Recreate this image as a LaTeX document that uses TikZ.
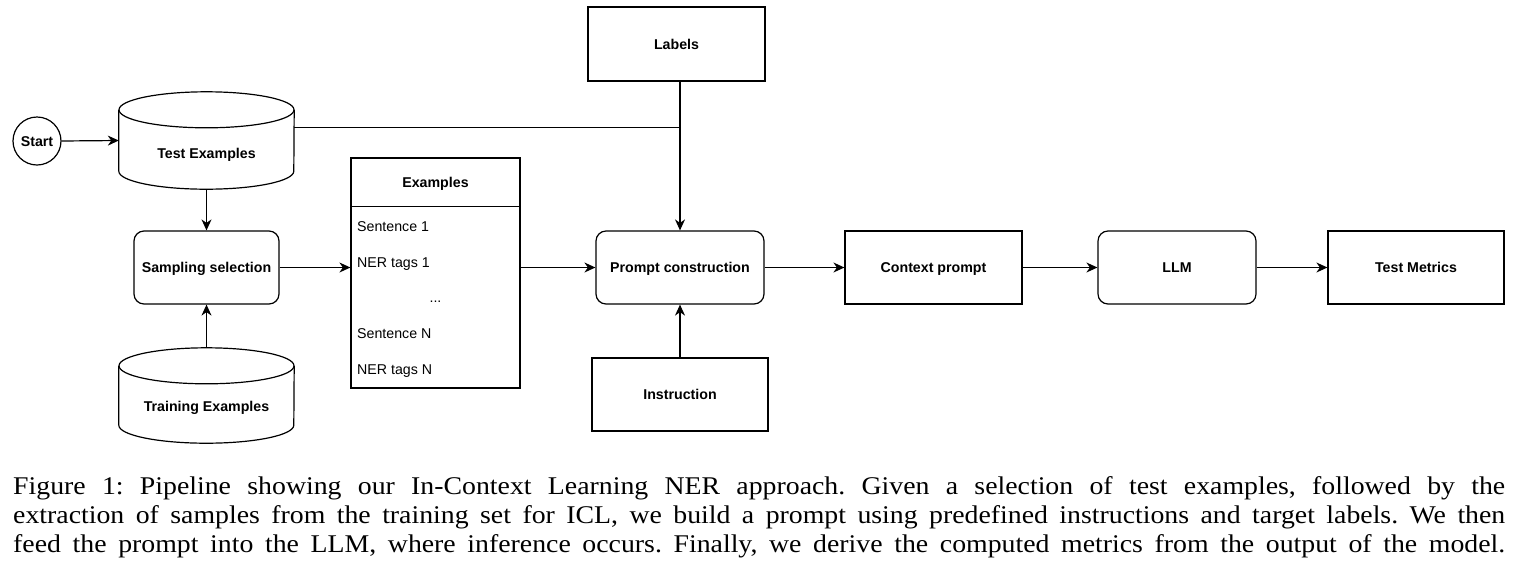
\documentclass[tikz,border=0pt]{standalone}
\usepackage{fontspec}
\setmainfont{Liberation Serif}
\newfontfamily\lsans{Liberation Sans}
\newfontfamily\capfont[FakeStretch=1.09]{Liberation Serif}
\usetikzlibrary{arrows.meta}
\begin{document}
\begin{tikzpicture}[x=1pt,y=-1pt,
  lw/.style={line width=1.2pt},
  bfont/.style={font=\lsans\bfseries\fontsize{14.2}{17}\selectfont},
  box/.style={draw, lw, rectangle, inner sep=0pt, bfont, text height=10.2pt, text depth=0pt},
  rbox/.style={box, rounded corners=10pt},
  cylbox/.style={rectangle, inner sep=0pt, minimum width=175pt},
  row/.style={anchor=base west, inner sep=0pt, font=\lsans\fontsize{14.2}{17}\selectfont},
  arr/.style={lw, -{Stealth[length=11pt,width=10pt,inset=3.5pt]}},
  captionline/.style={anchor=base west, inner sep=0pt, font=\capfont\fontsize{25.5}{29}\selectfont\frenchspacing}
]
\useasboundingbox (0,0) rectangle (1520,574);

% start
\node[circle, draw, lw, minimum size=48pt, inner sep=0pt, bfont, text height=10.2pt, text depth=0pt] (start) at (37,141) {Start};

% test examples cylinder
\node[cylbox, minimum height=97pt, label={[bfont, yshift=-14.5pt]center:Test Examples}] (test) at (206.5,140.5) {};
\draw[lw] ([yshift=-18pt]test.north west) -- ([yshift=18pt]test.south west)
   arc[start angle=180, end angle=360, x radius=87.5pt, y radius=18pt]
   -- ([yshift=-18pt]test.north east);
\draw[lw] ([yshift=-18pt]test.north) ellipse[x radius=87.5pt, y radius=18pt];

% training examples cylinder
\node[cylbox, minimum height=95pt, label={[bfont, yshift=-12.5pt]center:Training Examples}] (train) at (206.5,395.5) {};
\draw[lw] ([yshift=-18pt]train.north west) -- ([yshift=18pt]train.south west)
   arc[start angle=180, end angle=360, x radius=87.5pt, y radius=18pt]
   -- ([yshift=-18pt]train.north east);
\draw[lw] ([yshift=-18pt]train.north) ellipse[x radius=87.5pt, y radius=18pt];

% sampling selection
\node[rbox, minimum width=145pt, minimum height=73pt] (samp) at (206.5,267.5) {Sampling selection};

% examples table
\node[draw, lw, rectangle, inner sep=0pt, minimum width=169pt, minimum height=230pt] (ex) at (435.5,273) {};
\draw[lw] ([yshift=-49pt]ex.north west) -- ([yshift=-49pt]ex.north east);
\node[bfont, inner sep=0pt, text height=10.2pt, text depth=0pt] (exhead) at ([yshift=-24.5pt]ex.north) {Examples};
\node[row] (r1) at (357,231) {Sentence 1};
\node[row] (r2) at (357,267) {NER tags 1};
\node[row, anchor=base] (r3) at (435.5,302) {...};
\node[row] (r4) at (357,338) {Sentence N};
\node[row] (r5) at (357,374) {NER tags N};

% right part
\node[box, minimum width=177pt, minimum height=74pt] (labels) at (676.5,44) {Labels};
\node[rbox, minimum width=168pt, minimum height=73pt] (prompt) at (680,267.5) {Prompt construction};
\node[box, minimum width=176pt, minimum height=73pt] (instr) at (680,394.5) {Instruction};
\node[box, minimum width=177pt, minimum height=73pt] (context) at (933.5,267.5) {Context prompt};
\node[rbox, minimum width=158pt, minimum height=73pt] (llm) at (1177,267.5) {LLM};
\node[box, minimum width=176pt, minimum height=73pt] (metrics) at (1416,267.5) {Test Metrics};

% connectors
\draw[arr] (start.east) -- (test.west);
\coordinate (tout) at ([yshift=-36pt]test.north east);
\draw[lw] (tout) -- (tout -| prompt.north);
\draw[arr] (labels.south -| prompt.north) -- (prompt.north);
\draw[arr] (test.south) -- (samp.north);
\draw[arr] (train.north) -- (samp.south);
\draw[arr] (samp.east) -- (samp.east -| ex.west);
\draw[arr] (ex.east |- prompt.west) -- (prompt.west);
\draw[arr] (instr.north) -- (prompt.south);
\draw[arr] (prompt.east) -- (context.west);
\draw[arr] (context.east) -- (llm.west);
\draw[arr] (llm.east) -- (metrics.west);

% caption
\node[captionline] (c1) at (13,494) {\hbox to 1492pt{Figure 1: Pipeline showing our In-Context Learning NER approach. Given a selection of test examples, followed by the}};
\node[captionline] (c2) at (13,523) {\hbox to 1492pt{extraction of samples from the training set for ICL, we build a prompt using predefined instructions and target labels. We then}};
\node[captionline] (c3) at (13,552) {\hbox to 1492pt{feed the prompt into the LLM, where inference occurs. Finally, we derive the computed metrics from the output of the model.}};
\end{tikzpicture}
\end{document}
